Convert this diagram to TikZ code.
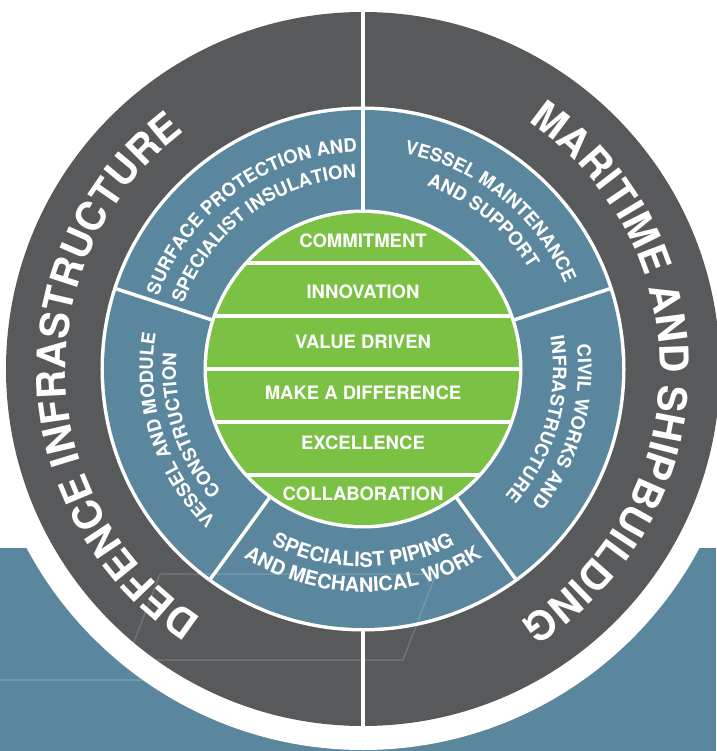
\documentclass[tikz,border=0pt]{standalone}
\usepackage{fontspec}
\setmainfont{TeX Gyre Heros}
\usetikzlibrary{decorations.text}
\definecolor{ringgray}{HTML}{58595B}
\definecolor{sectorblue}{HTML}{5A879D}
\definecolor{valuegreen}{HTML}{7BC143}
\newcommand{\ringfont}{\bfseries\fontsize{40}{48}\selectfont}
\newcommand{\sectorfont}{\bfseries\fontsize{18.5}{22}\selectfont}
\newcommand{\pipingfont}{\bfseries\fontsize{20}{24}\selectfont}
\tikzstyle{divider} = [draw=white, line width=3.5pt]
\tikzstyle{faint} = [draw=white, opacity=0.15, line width=1.5pt]
\tikzstyle{value} = [text=white, font=\bfseries\fontsize{18.5}{22}\selectfont]
\tikzstyle{ringtext} = [decorate, decoration={text along path, text align=center, text color=white}]

\begin{document}
\begin{tikzpicture}[x=1pt, y=1pt]
    \useasboundingbox (-363,-382) rectangle (353,369);
    % We start with the band behind the wheel
    \fill[sectorblue] (-363,-382) rectangle (353,-179);
    \draw[faint] (-363,-311) -- (0,-311);
    % Then the rings, from the outside in
    \fill[white] (0,0) circle[radius=381];
    \fill[ringgray] (0,0) circle[radius=357];
    \fill[white] (0,0) circle[radius=262.5];
    \fill[sectorblue] (0,0) circle[radius=259];
    \fill[white] (0,0) circle[radius=159.5];
    \fill[valuegreen] (0,0) circle[radius=156];
    % We draw the white lines between the sectors
    \foreach \a in {18,162,234,306}
        \draw[divider] (\a:157) -- (\a:261);
    \draw[divider] (90:157) -- (90:357);
    \draw[divider] (270:261) -- (270:357);
    \begin{scope}
        \clip (0,0) circle[radius=156];
        \foreach \y in {-106,-53,0,53,106}
            \draw[divider] (-160,\y) -- (160,\y);
    \end{scope}
    % The values in the middle
    \node[value] (commitment) at (0,128) {COMMITMENT};
    \node[value] (innovation) at (0,77) {INNOVATION};
    \node[value] (valuedriven) at (0,27) {VALUE DRIVEN};
    \node[value] (difference) at (0,-24) {MAKE A DIFFERENCE};
    \node[value] (excellence) at (0,-74) {EXCELLENCE};
    \node[value] (collaboration) at (0,-125) {COLLABORATION};
    % The two halves of the outer ring
    \path[ringtext, decoration={text={|\ringfont|DEFENCE INFRASTRUCTURE}}]
        (257:297) arc[start angle=257, end angle=107, radius=297];
    \path[ringtext, decoration={text={|\ringfont|MARITIME AND SHIPBUILDING}}]
        (74:297) arc[start angle=74, end angle=-76, radius=297];
    % The five sectors
    \path[ringtext, decoration={text={|\sectorfont|SURFACE PROTECTION AND}}]
        (186:217) arc[start angle=186, end angle=66, radius=217];
    \path[ringtext, decoration={text={|\sectorfont|SPECIALIST INSULATION}}]
        (186:191) arc[start angle=186, end angle=66, radius=191];
    \path[ringtext, decoration={text={|\sectorfont|VESSEL MAINTENANCE}}]
        (111:219) arc[start angle=111, end angle=-9, radius=219];
    \path[ringtext, decoration={text={|\sectorfont|AND SUPPORT}}]
        (111:194) arc[start angle=111, end angle=-9, radius=194];
    \path[ringtext, decoration={text={|\sectorfont|VESSEL AND MODULE}}]
        (258:210) arc[start angle=258, end angle=138, radius=210];
    \path[ringtext, decoration={text={|\sectorfont|CONSTRUCTION}}]
        (258:187) arc[start angle=258, end angle=138, radius=187];
    \path[ringtext, decoration={text={|\sectorfont|CIVIL WORKS AND}}]
        (44:215) arc[start angle=44, end angle=-76, radius=215];
    \path[ringtext, decoration={text={|\sectorfont|INFRASTRUCTURE}}]
        (44:190) arc[start angle=44, end angle=-76, radius=190];
    \path[ringtext, decoration={text={|\pipingfont|SPECIALIST PIPING}}]
        (210:198) arc[start angle=210, end angle=330, radius=198];
    \path[ringtext, decoration={text={|\pipingfont|AND MECHANICAL WORK}}]
        (210:223) arc[start angle=210, end angle=330, radius=223];
    % Faint lines over the lower part
    \draw[faint] (-203,-205) -- (73,-205) -- (40,-291) -- (-236,-291) -- cycle;
\end{tikzpicture}
\end{document}
